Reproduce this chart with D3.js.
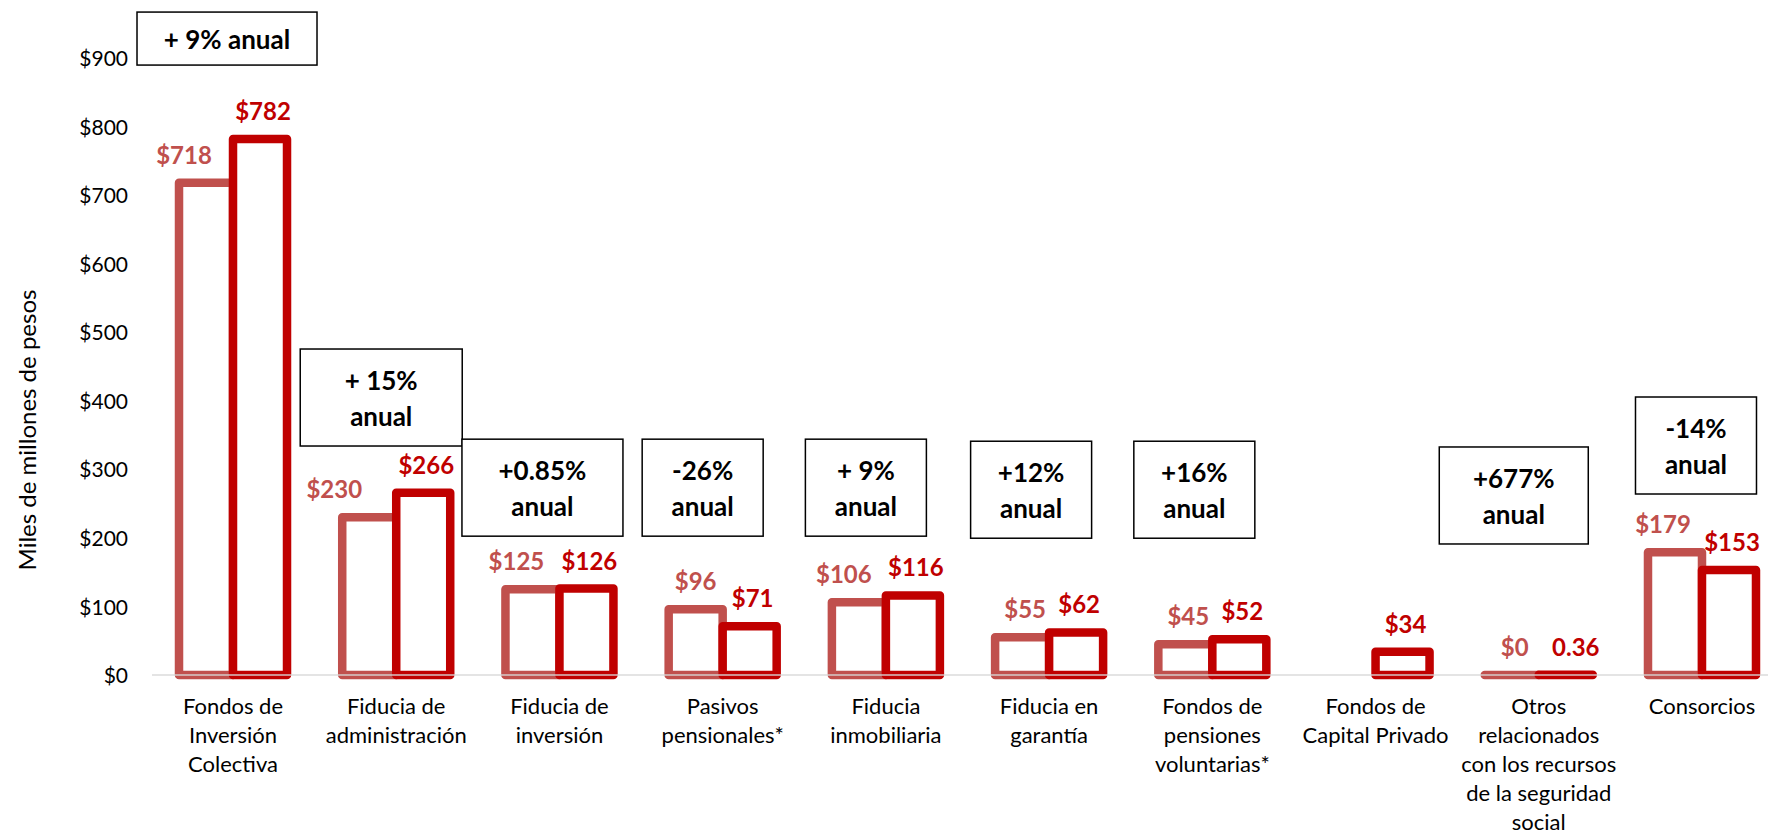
<!DOCTYPE html>
<html>
<head>
<meta charset="utf-8">
<script src="https://cdn.jsdelivr.net/npm/d3@7"></script>
<style>
  html, body { margin: 0; padding: 0; background: #fff; }
  svg { display: block; font-family: Lato, "Open Sans", sans-serif; }
</style>
</head>
<body>
<svg id="chart" width="1768" height="832"></svg>
<script>
// ---- data ----
const categories = [
  ["Fondos de", "Inversión", "Colectiva"],
  ["Fiducia de", "administración"],
  ["Fiducia de", "inversión"],
  ["Pasivos", "pensionales*"],
  ["Fiducia", "inmobiliaria"],
  ["Fiducia en", "garantía"],
  ["Fondos de", "pensiones", "voluntarias*"],
  ["Fondos de", "Capital Privado"],
  ["Otros", "relacionados", "con los recursos", "de la seguridad", "social"],
  ["Consorcios"]
];
const seriesPrev = [718, 230, 125, 96, 106, 55, 45, null, 0, 179];
const seriesCurr = [782, 266, 126, 71, 116, 62, 52, 34, 0.36, 153];
const labelsPrev = ["$718", "$230", "$125", "$96", "$106", "$55", "$45", "", "$0", "$179"];
const labelsCurr = ["$782", "$266", "$126", "$71", "$116", "$62", "$52", "$34", "0.36", "$153"];
const yTicks = [0, 100, 200, 300, 400, 500, 600, 700, 800, 900];
const yTickLabels = ["$0", "$100", "$200", "$300", "$400", "$500", "$600", "$700", "$800", "$900"];
const yTitle = "Miles de millones de pesos";
// growth annotations: category index, text lines, top of box (in axis units)
const growthCat = [0, 1, 2, 3, 4, 5, 6, 8, 9];
const growthText = [
  ["+ 9% anual"],
  ["+ 15%", "anual"],
  ["+0.85%", "anual"],
  ["-26%", "anual"],
  ["+ 9%", "anual"],
  ["+12%", "anual"],
  ["+16%", "anual"],
  ["+677%", "anual"],
  ["-14%", "anual"]
];
const growthTop = [967, 475.5, 344, 344, 344, 341, 341, 332.6, 405.5];

// ---- layout ----
const colorPrev = "#C0504D", colorCurr = "#C00000";
const boxLayout = [
  {dx: -6, w: 180}, {dx: -15, w: 162}, {dx: -17, w: 161}, {dx: -20, w: 121},
  {dx: -20, w: 121}, {dx: -18, w: 121}, {dx: -18, w: 121}, {dx: -25, w: 149}, {dx: -6, w: 121}
];
// label horizontal nudges (collision avoidance, px)
const labelDxPrev = [-22, -35, -16, 0, -15, 3, 3, 0, 3, -12];
const labelDxCurr = [3, 3, 3, 3, 3, 3, 3, 3, 10, 3];

const svg = d3.select("#chart");
const idx = categories.map((d, i) => i);
const x = d3.scaleBand().domain(idx).range([151.4, 1783.6]).paddingInner(0).paddingOuter(0);
const y = d3.scaleLinear().domain([0, 900]).range([675, 58]);
const barW = 54;

// y axis tick labels
const yAxis = d3.axisLeft(y).tickValues(yTicks).tickFormat((d, i) => yTickLabels[i]).tickSize(0).tickPadding(0);
const yg = svg.append("g").attr("transform", "translate(128,0)").call(yAxis);
yg.select(".domain").remove();
yg.selectAll("text").attr("font-family", "Lato").attr("font-size", 21).attr("fill", "#000").attr("dy", "0.36em");

// y title
svg.append("text")
  .attr("transform", "translate(28,430) rotate(-90)")
  .attr("text-anchor", "middle")
  .attr("dy", "0.35em")
  .attr("font-size", 24)
  .attr("fill", "#000")
  .text(yTitle);

function barPath(cx, v) {
  const x0 = cx - barW / 2, x1 = cx + barW / 2, yb = y(0), yt = y(v);
  return `M${x0},${yb}L${x0},${yt}L${x1},${yt}L${x1},${yb}Z`;
}

const center = i => x(i) + x.bandwidth() / 2;

// bars series 1
svg.append("g").selectAll("path").data(idx.filter(i => seriesPrev[i] != null)).join("path")
  .attr("d", i => barPath(center(i) - barW / 2, seriesPrev[i]))
  .attr("fill", "#fff").attr("stroke", colorPrev).attr("stroke-width", 8.5).attr("stroke-linejoin", "round");
// bars series 2
svg.append("g").selectAll("path").data(idx.filter(i => seriesCurr[i] != null)).join("path")
  .attr("d", i => barPath(center(i) + barW / 2, seriesCurr[i]))
  .attr("fill", "#fff").attr("stroke", colorCurr).attr("stroke-width", 8.5).attr("stroke-linejoin", "round");

// baseline
svg.append("line").attr("x1", 152).attr("x2", 1768).attr("y1", y(0)).attr("y2", y(0))
  .attr("stroke", "#d9d9d9").attr("stroke-width", 1.5).attr("opacity", 0.9);

// value labels
svg.append("g").selectAll("text").data(idx.filter(i => seriesPrev[i] != null)).join("text")
  .attr("x", i => center(i) - barW / 2 + labelDxPrev[i]).attr("y", i => y(seriesPrev[i]) - 19)
  .attr("text-anchor", "middle").attr("font-weight", "bold").attr("font-size", 24)
  .attr("fill", colorPrev).text(i => labelsPrev[i]);
svg.append("g").selectAll("text").data(idx.filter(i => seriesCurr[i] != null)).join("text")
  .attr("x", i => center(i) + barW / 2 + labelDxCurr[i]).attr("y", i => y(seriesCurr[i]) - 19)
  .attr("text-anchor", "middle").attr("font-weight", "bold").attr("font-size", 24)
  .attr("fill", colorCurr).text(i => labelsCurr[i]);

// category labels
const cg = svg.append("g").selectAll("text").data(idx).join("text")
  .attr("x", i => center(i)).attr("y", 714)
  .attr("text-anchor", "middle").attr("font-size", 22).attr("fill", "#000");
cg.each(function(i) {
  d3.select(this).selectAll("tspan").data(categories[i]).join("tspan")
    .attr("x", center(i)).attr("dy", (d, j) => j === 0 ? 0 : 29).text(d => d);
});

// growth boxes
growthCat.forEach((ci, k) => {
  const lay = boxLayout[k];
  const lines = growthText[k];
  const cx = center(ci) + lay.dx;
  const top = y(growthTop[k]);
  const h = lines.length === 1 ? 53 : 97;
  const g = svg.append("g");
  g.append("rect").attr("x", cx - lay.w / 2).attr("y", top).attr("width", lay.w).attr("height", h)
    .attr("fill", "#fff").attr("stroke", "#000").attr("stroke-width", 1.5);
  const t = g.append("text").attr("text-anchor", "middle").attr("font-weight", "bold").attr("font-size", 26).attr("fill", "#000");
  lines.forEach((ln, j) => {
    t.append("tspan").attr("x", cx).attr("y", lines.length === 1 ? top + 37 : top + 41 + j * 36).text(ln);
  });
});
</script>
</body>
</html>
